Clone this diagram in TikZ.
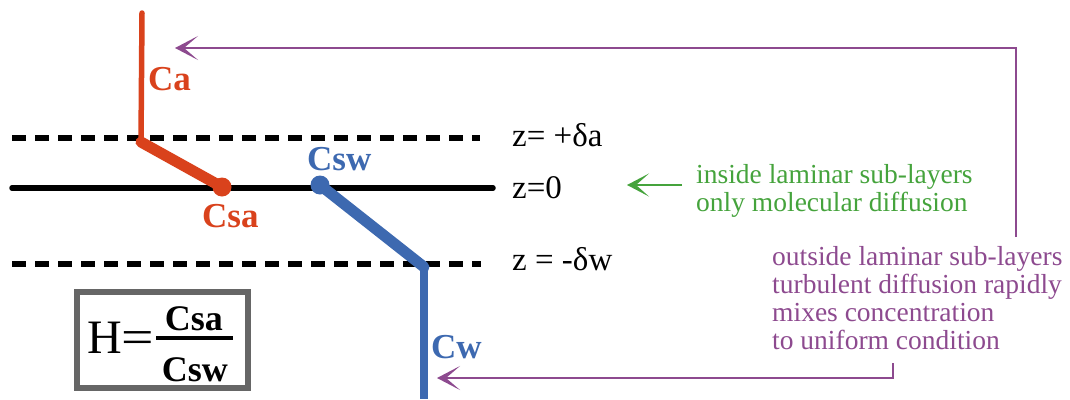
\documentclass[tikz,border=0pt]{standalone}
\usepackage{fontspec}
\usepackage{graphicx}
\setmainfont{Liberation Serif}
\usetikzlibrary{arrows.meta}
\definecolor{cred}{HTML}{D9421C}
\definecolor{cblue}{HTML}{3D69B0}
\definecolor{cgreen}{HTML}{45A33C}
\definecolor{cpurple}{HTML}{8D4A8F}
\definecolor{cgray}{HTML}{666666}
\begin{document}
\begin{tikzpicture}[x=1pt,y=-1pt,
  every node/.style={inner sep=0pt},
  lvl/.style={line width=5.5pt},
  lvldash/.style={line width=5.5pt, dash pattern=on 14pt off 9pt},
  zlab/.style={anchor=base west, font=\fontsize{33}{36}\selectfont},
  clab/.style={anchor=base west, font=\fontsize{35}{36}\selectfont\bfseries},
  gtxt/.style={anchor=base west, text=cgreen, font=\fontsize{27.5}{28}\selectfont},
  ptxt/.style={anchor=base west, text=cpurple, font=\fontsize{27.5}{28}\selectfont},
  parrow/.style={cpurple, line width=2.3pt, -{Stealth[length=23pt,width=24pt,inset=14pt]}},
  garrow/.style={cgreen, line width=2.3pt, -{Stealth[length=22pt,width=23pt,inset=13pt]}},
]
\useasboundingbox (0,0) rectangle (1070,399);

% level lines
\coordinate (dA1) at (12,138);  \coordinate (dA2) at (480,138);
\coordinate (s01) at (12,188);  \coordinate (s02) at (493,188);
\coordinate (dW1) at (12,264);  \coordinate (dW2) at (481,264);
\draw[lvldash] (dA1) -- (dA2);
\draw[lvl, line cap=round] (s01) -- (s02);
\draw[lvldash] (dW1) -- (dW2);

% red profile
\coordinate (rtop) at (142,13);
\coordinate (rk) at (141,142);
\coordinate (rs) at (222,187);
\draw[cred, line width=5.5pt, line cap=round] (rtop) -- (rk);
\draw[cred, line width=11pt, line cap=round] (rk) -- (rs);
\fill[cred] (rs) circle (9.5pt);

% blue profile
\coordinate (bs) at (320,185);
\coordinate (bk) at (424,267);
\coordinate (bb) at (424,399);
\draw[cblue, line width=11pt, line cap=round] (bs) -- (bk);
\draw[cblue, line width=7.5pt] (bk) -- (bb);
\fill[cblue] (bs) circle (9.5pt);

% concentration labels
\node[clab, text=cred] (Ca) at (148,90) {Ca};
\node[clab, text=cred] (Csa) at (202,227) {Csa};
\node[clab, text=cblue] (Csw) at (307,170) {Csw};
\node[clab, text=cblue] (Cw) at (431,358) {Cw};

% level labels
\node[zlab] (zA) at (512,146) {z= +δa};
\node[zlab] (z0) at (512,198) {z=0};
\node[zlab] (zW) at (512,270) {z = -δw};

% green note
\node[gtxt] (g1) at (696,183) {inside laminar sub-layers};
\node[gtxt] (g2) at (696,211) {only molecular diffusion};
\coordinate (gs) at (682,185);
\coordinate (gt) at (627,185);
\draw[garrow] (gs) -- (gt);

% purple note
\node[ptxt] (p1) at (772,265) {outside laminar sub-layers};
\node[ptxt] (p2) at (772,293) {turbulent diffusion rapidly};
\node[ptxt] (p3) at (772,321) {mixes concentration};
\node[ptxt] (p4) at (772,349) {to uniform condition};
\coordinate (pa) at (1016,237);
\coordinate (pb) at (1016,48);
\coordinate (pt) at (175,48);
\draw[parrow] (pa) -- (pb) -- (pt);
\coordinate (qa) at (893,363);
\coordinate (qb) at (893,378);
\coordinate (qt) at (437,378);
\draw[parrow] (qa) -- (qb) -- (qt);

% formula box
\node[draw=cgray, line width=6pt, minimum width=171pt, minimum height=96pt] (hbox) at (162.5,340) {};
\node[anchor=base west, font=\fontsize{48}{50}\selectfont] (Heq) at (87,353) {H\scalebox{1.2}[1]{=}};
\coordinate (fb1) at (156,338);
\coordinate (fb2) at (233,338);
\draw[line width=3.5pt] (fb1) -- (fb2);
\node[anchor=base, font=\fontsize{36}{38}\selectfont\bfseries] (num) at (194,330) {Csa};
\node[anchor=base, font=\fontsize{36}{38}\selectfont\bfseries] (den) at (195,381) {Csw};
\end{tikzpicture}
\end{document}
